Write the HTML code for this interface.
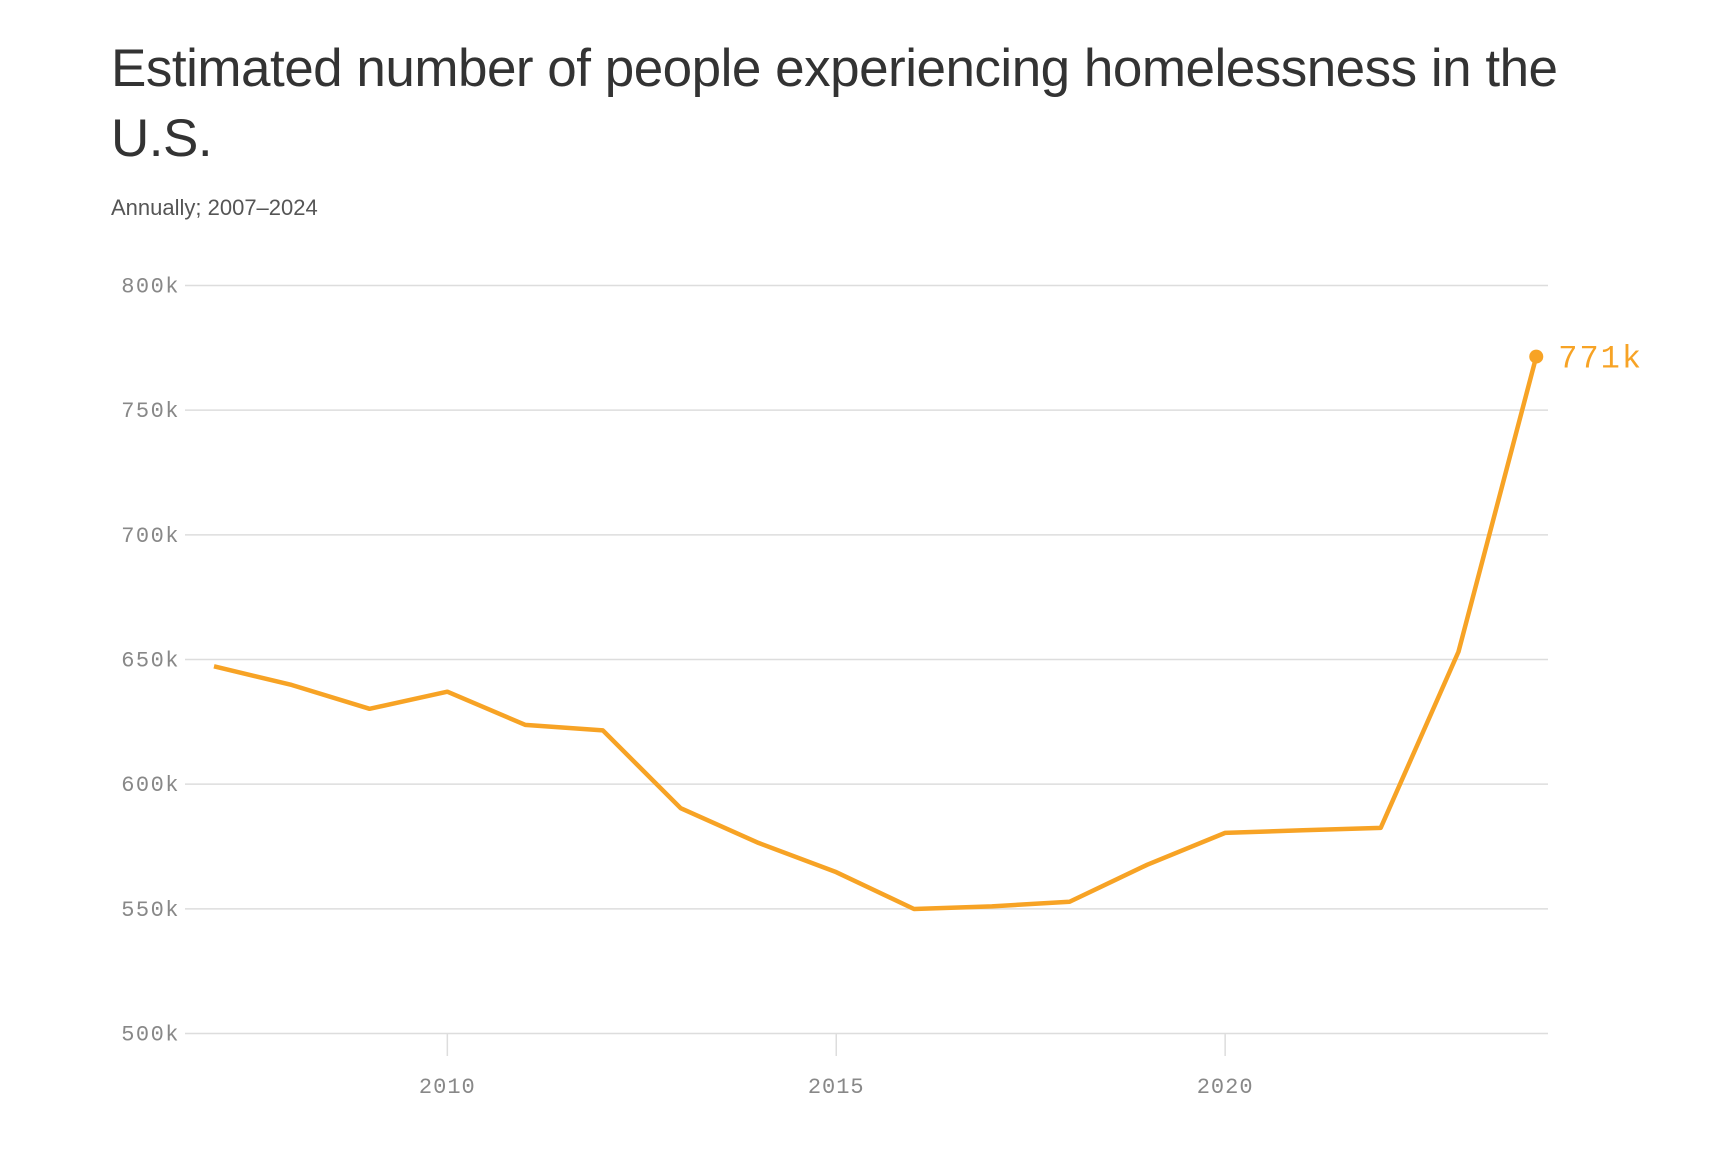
<!DOCTYPE html>
<html><head><meta charset="utf-8"><style>
body{margin:0;background:#fff;width:1728px;height:1156px;overflow:hidden;font-family:"Liberation Sans",sans-serif}
#title{position:absolute;left:111px;top:34px;width:1560px;font-size:53px;line-height:70px;color:#333;letter-spacing:-0.5px}
#sub{position:absolute;left:111px;top:195px;font-size:22px;color:#555}
svg{position:absolute;left:0;top:0}
</style></head><body>
<div id="title">Estimated number of people experiencing homelessness in the U.S.</div>
<div id="sub">Annually; 2007–2024</div>
<svg id="c" width="1728" height="1156"></svg>
<script>
const years=[2007,2008,2009,2010,2011,2012,2013,2014,2015,2016,2017,2018,2019,2020,2021,2022,2023,2024];
const values=[647258,639784,630227,637077,623788,621553,590364,576450,564708,549928,550996,552830,567715,580466,581500,582462,653104,771480];
const yTicks=[500000,550000,600000,650000,700000,750000,800000];
const yTickLabels=["500k","550k","600k","650k","700k","750k","800k"];
const xTicks=[2010,2015,2020];
const lastLabel="771k";
const NS="http://www.w3.org/2000/svg";
const svg=document.getElementById('c');
const x=v=>214+(v-2007)*77.78;
const y=v=>1033.5-(v-500000)*(1033.5-285.5)/300000;
function mk(t,a){const e=document.createElementNS(NS,t);for(const k in a)e.setAttribute(k,a[k]);svg.appendChild(e);return e;}
yTicks.forEach((t,i)=>{
 const l=mk('line',{x1:185,x2:1548,y1:y(t),y2:y(t),stroke:'#ddd','stroke-width':1.5});
 
 
 const tx=mk('text',{x:180,y:y(t)+7,'text-anchor':'end','font-family':'Liberation Mono, monospace','font-size':22,'letter-spacing':1.5,fill:'#888'});
 tx.textContent=yTickLabels[i];
 
 
});
xTicks.forEach(t=>{
 const l=mk('line',{x1:x(t),x2:x(t),y1:1033.5,y2:1056,stroke:'#ddd','stroke-width':1.5});
 
 
 const tx=mk('text',{x:x(t),y:1093,'text-anchor':'middle','font-family':'Liberation Mono, monospace','font-size':22,'letter-spacing':1,fill:'#888'});
 tx.textContent=t;
 
 
});
const p=mk('polyline',{points:years.map((yr,i)=>x(yr)+','+y(values[i])).join(' '),fill:'none',stroke:'#f7a325','stroke-width':4.5,'stroke-linejoin':'round'});


const n=years.length-1;
const d=mk('circle',{cx:x(years[n]),cy:y(values[n]),r:7,fill:'#f7a325'});


const lt=mk('text',{x:x(years[n])+22,y:y(values[n])+11,'font-family':'Liberation Mono, monospace','font-size':32,'letter-spacing':2,fill:'#f7a325'});
lt.textContent=lastLabel;


</script>
</body></html>
